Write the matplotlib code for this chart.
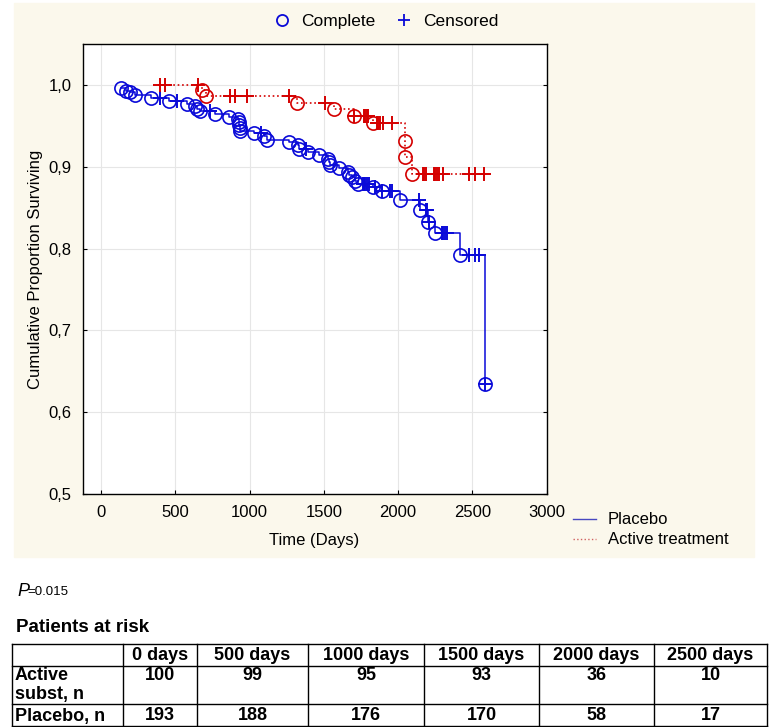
import numpy as np
import matplotlib.pyplot as plt
from matplotlib.lines import Line2D
from matplotlib.patches import Rectangle

# Placebo: event times (days) and survival after each event
placebo_event_days = [136, 170, 192, 226, 339, 459, 581, 633, 649, 667, 769, 859,
                      925, 928, 930, 932, 935, 1029, 1097, 1120, 1266, 1323, 1334,
                      1395, 1470, 1526, 1532, 1540, 1605, 1662, 1672, 1690, 1710,
                      1730, 1832, 1888, 2015, 2150, 2200, 2250, 2413, 2582]
placebo_event_surv = [0.996, 0.992, 0.991, 0.988, 0.984, 0.980, 0.977, 0.974, 0.971,
                      0.968, 0.965, 0.961, 0.958, 0.955, 0.951, 0.947, 0.944, 0.941,
                      0.937, 0.933, 0.930, 0.926, 0.922, 0.918, 0.914, 0.910, 0.906,
                      0.902, 0.898, 0.894, 0.890, 0.887, 0.883, 0.879, 0.875, 0.870,
                      0.859, 0.847, 0.833, 0.819, 0.7925, 0.635]
placebo_censor_days = [400, 510, 735, 1074, 1380, 1760, 1770, 1780, 1790, 1805, 1845,
                       1890, 1945, 1956, 2140, 2185, 2195, 2205, 2295, 2305, 2315,
                       2330, 2480, 2520, 2545, 2582]

# Active treatment
active_event_days = [680, 705, 1320, 1571, 1700, 1832, 2046, 2048, 2092]
active_event_surv = [0.994, 0.986, 0.978, 0.970, 0.962, 0.953, 0.932, 0.912, 0.891]
active_censor_days = [396, 430, 655, 870, 904, 984, 1266, 1510, 1700, 1770, 1780,
                      1790, 1800, 1855, 1865, 1875, 1900, 1956, 2165, 2175, 2185,
                      2240, 2250, 2260, 2275, 2300, 2476, 2520, 2578]

# Patients at risk table
risk_cols = ["", "0 days", "500 days", "1000 days", "1500 days", "2000 days", "2500 days"]
risk_active = [100, 99, 95, 93, 36, 10]
risk_placebo = [193, 188, 176, 170, 58, 17]

yticks = [0.5, 0.6, 0.7, 0.8, 0.9, 1.0]
ytick_labels = ["0,5", "0,6", "0,7", "0,8", "0,9", "1,0"]
xticks = [0, 500, 1000, 1500, 2000, 2500, 3000]

BLUE = "#0a0ad8"
RED = "#d40000"

plt.rcParams['font.family'] = ['Liberation Sans', 'DejaVu Sans']


def surv_at(t, ev_days, ev_surv):
    s = 1.0
    for d, v in zip(ev_days, ev_surv):
        if d <= t:
            s = v
    return s


def curve(ev_days, ev_surv, cen_days):
    cen_surv = [surv_at(t, ev_days, ev_surv) for t in cen_days]
    pts = sorted(list(zip(ev_days, ev_surv)) + list(zip(cen_days, cen_surv)))
    t = [p[0] for p in pts]
    s = [p[1] for p in pts]
    return t, s, cen_surv


fig = plt.figure(figsize=(7.7, 7.27), dpi=100)
W, H = 770, 727

# beige panel behind the chart
fig.patches.append(Rectangle((14 / W, 1 - 557 / H), (754 - 14) / W, (557 - 3) / H,
                             transform=fig.transFigure, color="#fbf8ec", zorder=-1))

ax = fig.add_axes([82.5 / W, 1 - 494 / H, (546.7 - 82.5) / W, (494 - 44) / H])
ax.set_facecolor("white")

# placebo curve
t, s, cs = curve(placebo_event_days, placebo_event_surv, placebo_censor_days)
ax.step(t, s, where="post", color=BLUE, lw=1.1, zorder=3)
ax.plot(placebo_event_days, placebo_event_surv, "o", mfc="none", mec=BLUE, ms=9.5, mew=1.2, zorder=4)
ax.plot(placebo_censor_days, cs, "+", color=BLUE, ms=10, mew=1.4, zorder=4)

# active treatment curve
t, s, cs = curve(active_event_days, active_event_surv, active_censor_days)
ax.step(t, s, where="post", color=RED, lw=1.2, ls=":", zorder=3)
ax.plot(active_event_days, active_event_surv, "o", mfc="none", mec=RED, ms=9.5, mew=1.2, zorder=4)
ax.plot(active_censor_days, cs, "+", color=RED, ms=10, mew=1.4, zorder=4)

ax.set_xlim(-125, 3000)
ax.set_ylim(0.5, 1.05)
ax.set_xticks(xticks)
ax.set_yticks(yticks)
ax.set_yticklabels(ytick_labels)
ax.tick_params(direction="in", length=3, labelsize=12, right=True, top=False, pad=8)
ax.grid(True, color="#e6e6e6", lw=0.8)
ax.set_axisbelow(True)
for sp in ax.spines.values():
    sp.set_linewidth(1.0)
ax.set_xlabel("Time (Days)", fontsize=12, labelpad=9)
ax.set_ylabel("Cumulative Proportion Surviving", fontsize=12, labelpad=4)

# top legend
top_handles = [Line2D([], [], marker="o", ls="", mfc="none", mec=BLUE, ms=8, mew=1.3),
               Line2D([], [], marker="+", ls="", color=BLUE, ms=9, mew=1.3)]
fig.legend(top_handles, ["Complete", "Censored"], loc="center",
           bbox_to_anchor=(385 / W, 1 - 21 / H), ncol=2, frameon=False, fontsize=12.5,
           handlelength=1.2, handletextpad=0.5, columnspacing=1.1)

# series legend
line_handles = [Line2D([], [], color="#4848c0", lw=1.0),
                Line2D([], [], color="#d06060", lw=1.0, ls=":")]
fig.legend(line_handles, ["Placebo", "Active treatment"], loc="upper left",
           bbox_to_anchor=(565 / W, 1 - 504 / H), frameon=False, fontsize=12,
           handlelength=1.35, labelspacing=0.3, handletextpad=0.7, borderpad=0)

# p-value and risk table drawn in pixel coordinates
tax = fig.add_axes([0, 0, 1, 1])
tax.set_xlim(0, W)
tax.set_ylim(H, 0)
tax.axis("off")

tax.text(17, 591, "P", style="italic", fontsize=13, va="center")
tax.text(27.5, 592, "=0.015", fontsize=9.5, va="center")
tax.text(16, 627, "Patients at risk", fontsize=13.5, weight="bold", va="center")

col_edges = [12, 123, 197, 308, 424, 539, 654, 767]
row_edges = [644, 666, 704, 726]
for x in col_edges:
    tax.plot([x, x], [row_edges[0], row_edges[-1]], color="black", lw=1.0)
for y in row_edges:
    tax.plot([col_edges[0], col_edges[-1]], [y, y], color="black", lw=1.0)

FS = 13
for j, lab in enumerate(risk_cols[1:]):
    cx = (col_edges[j + 1] + col_edges[j + 2]) / 2
    tax.text(cx, (row_edges[0] + row_edges[1]) / 2 + 1, lab, ha="center", va="center",
             fontsize=FS, weight="bold")
    tax.text(cx, row_edges[1] + 10, str(risk_active[j]), ha="center", va="center",
             fontsize=FS, weight="bold")
    tax.text(cx, (row_edges[2] + row_edges[3]) / 2 + 1, str(risk_placebo[j]), ha="center",
             va="center", fontsize=FS, weight="bold")

tax.text(15, row_edges[1] + 10, "Active", va="center", fontsize=FS, weight="bold")
tax.text(15, row_edges[1] + 28, "subst, n", va="center", fontsize=FS, weight="bold")
tax.text(15, (row_edges[2] + row_edges[3]) / 2 + 1, "Placebo, n", va="center", fontsize=FS,
         weight="bold")

fig.savefig("out.png", dpi=100)
